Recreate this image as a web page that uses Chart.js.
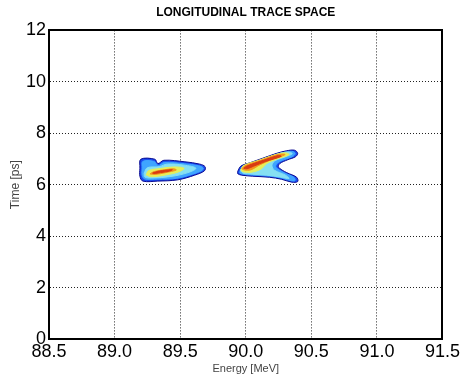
<!DOCTYPE html>
<html>
<head>
<meta charset="utf-8">
<script src="https://cdn.jsdelivr.net/npm/chart.js@4/dist/chart.umd.min.js"></script>
<style>
  html, body { margin: 0; padding: 0; background: #fff; }
  canvas { display: block; }
</style>
</head>
<body>
<canvas id="canvas" width="462" height="377"></canvas>
<script>
// axis ticks
var energyTicks = [88.5, 89, 89.5, 90, 90.5, 91, 91.5];
var timeTicks = [0, 2, 4, 6, 8, 10, 12];

// density contours, [energy MeV, time ps], outer level first
var bunch1 = [
  [[89.193,6.64],[89.20,6.99],[89.307,6.99],[89.33,6.82],[89.376,6.95],[89.536,6.89],[89.65,6.80],[89.69,6.70],[89.685,6.54],[89.61,6.37],[89.482,6.19],[89.33,6.14],[89.216,6.14],[89.193,6.33]],
  [[89.21,6.64],[89.215,6.905],[89.30,6.905],[89.333,6.745],[89.379,6.865],[89.532,6.815],[89.642,6.735],[89.675,6.655],[89.667,6.555],[89.595,6.41],[89.474,6.25],[89.33,6.215],[89.23,6.22],[89.21,6.365]],
  [[89.225,6.45],[89.25,6.66],[89.34,6.70],[89.40,6.80],[89.53,6.76],[89.62,6.64],[89.56,6.47],[89.43,6.32],[89.28,6.26],[89.23,6.30]],
  [[89.24,6.38],[89.26,6.55],[89.35,6.63],[89.45,6.69],[89.53,6.64],[89.49,6.50],[89.39,6.38],[89.28,6.31]],
  [[89.27,6.42],[89.30,6.51],[89.38,6.58],[89.45,6.62],[89.47,6.57],[89.39,6.47],[89.31,6.40]],
  [[89.29,6.45],[89.33,6.52],[89.40,6.57],[89.44,6.58],[89.42,6.53],[89.35,6.47],[89.31,6.44]]
];
var bunch2 = [
  [[89.939,6.52],[89.962,6.72],[90.03,6.85],[90.13,7.03],[90.236,7.22],[90.312,7.32],[90.373,7.34],[90.396,7.22],[90.38,7.09],[90.32,6.97],[90.259,6.82],[90.25,6.68],[90.312,6.47],[90.388,6.29],[90.396,6.12],[90.35,6.10],[90.274,6.21],[90.18,6.29],[90.053,6.33],[89.97,6.37],[89.939,6.43]],
  [[89.956,6.52],[89.977,6.705],[90.04,6.825],[90.14,7.0],[90.24,7.18],[90.311,7.275],[90.36,7.29],[90.377,7.21],[90.359,7.1],[90.298,6.985],[90.24,6.835],[90.23,6.68],[90.295,6.46],[90.368,6.285],[90.376,6.16],[90.346,6.155],[90.273,6.26],[90.18,6.335],[90.052,6.375],[89.978,6.415],[89.955,6.45]],
  [[89.96,6.54],[89.98,6.72],[90.07,6.88],[90.17,7.06],[90.26,7.22],[90.33,7.27],[90.355,7.2],[90.3,7.08],[90.22,6.92],[90.2,6.74],[90.22,6.56],[90.3,6.38],[90.33,6.24],[90.26,6.30],[90.16,6.37],[90.05,6.41],[89.98,6.45]],
  [[89.962,6.57],[89.985,6.75],[90.1,6.95],[90.22,7.16],[90.3,7.24],[90.33,7.17],[90.24,7.0],[90.16,6.82],[90.12,6.62],[90.05,6.49],[89.98,6.5]],
  [[89.97,6.62],[89.995,6.74],[90.12,6.96],[90.25,7.18],[90.3,7.17],[90.2,6.98],[90.11,6.78],[90.04,6.58],[89.99,6.57]],
  [[89.985,6.64],[90.01,6.73],[90.14,6.96],[90.25,7.14],[90.27,7.1],[90.15,6.9],[90.06,6.72],[90.01,6.62]]
];
var levelColors = ['#1a4cf0', '#3fa5ff', '#86e0f2', '#e6ee5a', '#f5951c', '#d83a12'];

var datasets = [];
[bunch1, bunch2].forEach(function(bunch) {
  bunch.forEach(function(ring, i) {
    var pts = ring.map(function(p) { return {x: p[0], y: p[1]}; });
    pts.push({x: ring[0][0], y: ring[0][1]});
    datasets.push({
      data: pts,
      showLine: true,
      fill: 'shape',
      tension: 0.35,
      pointRadius: 0,
      backgroundColor: levelColors[i],
      borderColor: i === 0 ? '#0a0a90' : levelColors[i],
      borderWidth: 1,
      order: 10 - i,
      xAxisID: 'x',
      yAxisID: 'y'
    });
  });
});

window.onload = function() {
  var ctx = document.getElementById('canvas').getContext('2d');
  new Chart(ctx, {
    type: 'scatter',
    data: { datasets: datasets },
    options: {
      responsive: false,
      animation: false,
      layout: { padding: { left: 0, right: 19, top: 0, bottom: 0 } },
      plugins: {
        legend: { display: false },
        tooltip: { enabled: false },
        title: {
          display: true,
          fullSize: false,
          text: 'LONGITUDINAL TRACE SPACE',
          color: '#000',
          font: { family: 'Arial', size: 12, weight: 'bold' },
          padding: { top: 5, bottom: 11 }
        }
      },
      scales: {
        x: {
          type: 'linear',
          min: 88.5, max: 91.5,
          afterBuildTicks: function(s) { s.ticks = energyTicks.map(function(v) { return {value: v}; }); },
          afterFit: function(s) { s.height = 38; },
          ticks: { color: '#000', font: { family: 'Arial', size: 18 }, padding: 2, maxRotation: 0 },
          grid: { color: '#222', lineWidth: 1, drawTicks: false },
          border: { display: true, color: '#000', width: 2, dash: [1, 2] },
          title: { display: true, text: 'Energy [MeV]', color: '#444', font: { family: 'Arial', size: 11 }, padding: { top: 0, bottom: 1 } }
        },
        y: {
          type: 'linear',
          min: 0, max: 12,
          afterBuildTicks: function(s) { s.ticks = timeTicks.map(function(v) { return {value: v}; }); },
          afterFit: function(s) { s.width = 49; },
          ticks: { color: '#000', font: { family: 'Arial', size: 18 }, padding: 3 },
          grid: { color: '#222', lineWidth: 1, drawTicks: false },
          border: { display: true, color: '#000', width: 2, dash: [1, 2] },
          title: { display: true, text: 'Time [ps]', color: '#444', font: { family: 'Arial', size: 12 }, padding: { top: 8, bottom: 0 } }
        },
        x2: {
          type: 'linear', position: 'top', min: 88.5, max: 91.5,
          ticks: { display: false },
          grid: { display: false, drawTicks: false },
          border: { display: true, color: '#000', width: 2 },
          afterFit: function(s) { s.height = 0; }
        },
        y2: {
          type: 'linear', position: 'right', min: 0, max: 12,
          ticks: { display: false },
          grid: { display: false, drawTicks: false },
          border: { display: true, color: '#000', width: 2 },
          afterFit: function(s) { s.width = 0; }
        }
      }
    }
  });
};
</script>
</body>
</html>
